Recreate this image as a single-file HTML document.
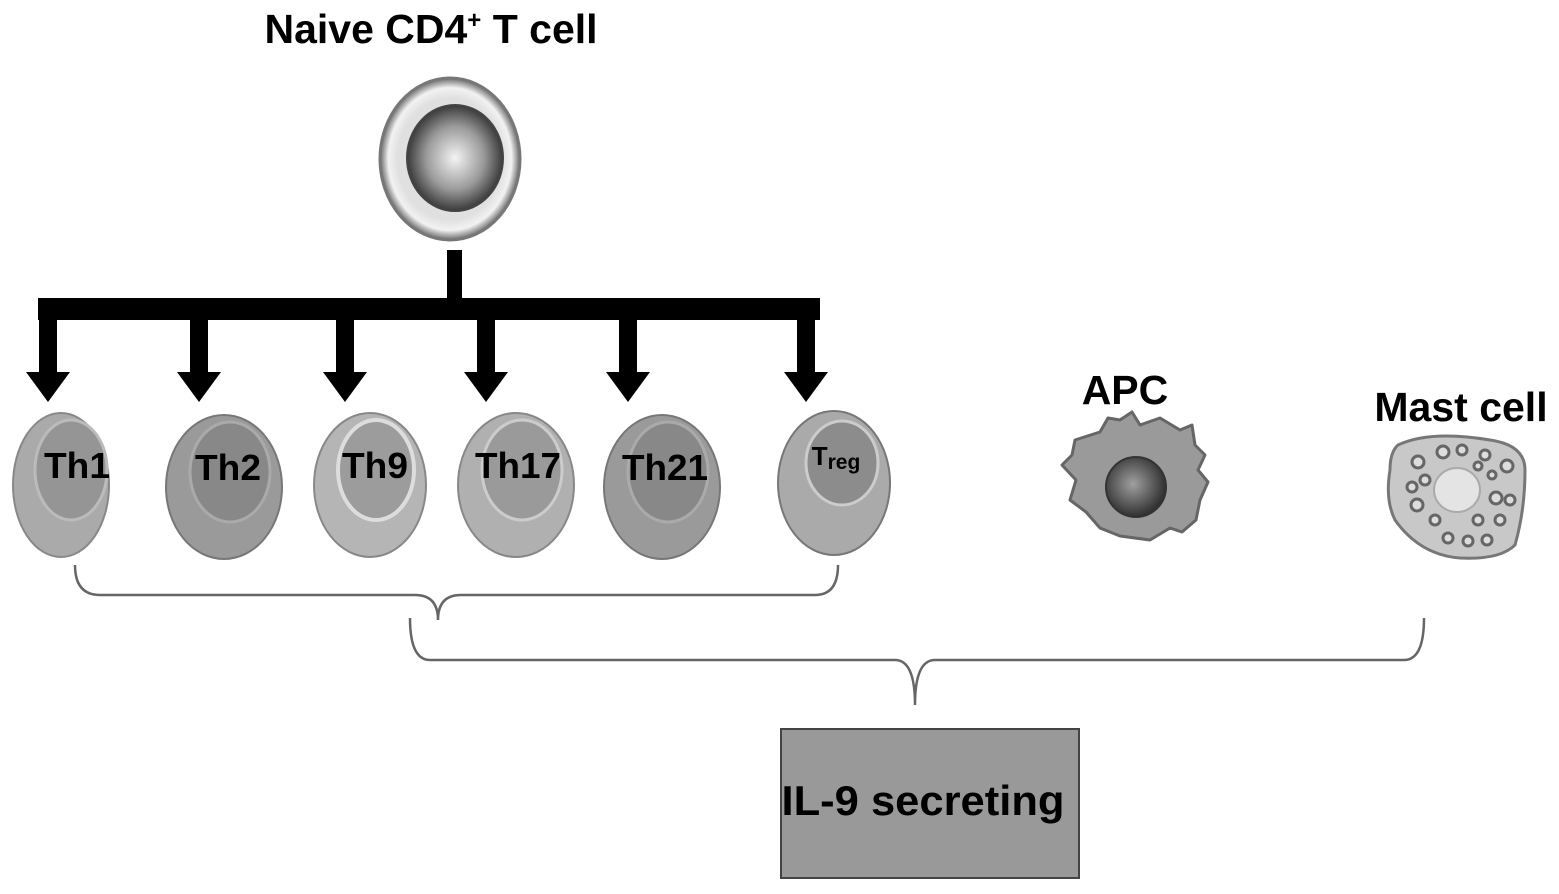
<!DOCTYPE html>
<html><head><meta charset="utf-8"><style>
html,body{margin:0;padding:0;background:#fff}
svg{display:block}
text{font-family:"Liberation Sans",Arial,sans-serif;font-weight:bold}
</style></head><body>
<svg width="1559" height="894" viewBox="0 0 1559 894" xmlns="http://www.w3.org/2000/svg">
<defs>
<radialGradient id="nuc" cx="0.5" cy="0.5" r="0.5">
<stop offset="0" stop-color="#f4f4f4"/><stop offset="0.6" stop-color="#9a9a9a"/><stop offset="1" stop-color="#3a3a3a"/>
</radialGradient>
<radialGradient id="ring" cx="0.5" cy="0.5" r="0.5">
<stop offset="0.75" stop-color="#e0e0e0"/><stop offset="0.88" stop-color="#f2f2f2"/><stop offset="1" stop-color="#6a6a6a"/>
</radialGradient>
<radialGradient id="apcn" cx="0.45" cy="0.45" r="0.55">
<stop offset="0" stop-color="#a0a0a0"/><stop offset="1" stop-color="#303030"/>
</radialGradient>
</defs>
<text x="431" y="43" font-size="41" text-anchor="middle">Naive CD4<tspan font-size="24" dy="-15">+</tspan><tspan dy="15"> T cell</tspan></text>
<ellipse cx="450" cy="159" rx="70" ry="81" fill="url(#ring)" stroke="#777" stroke-width="3"/>
<ellipse cx="455" cy="158" rx="48" ry="53" fill="url(#nuc)" stroke="#444" stroke-width="2"/>
<rect x="447" y="250" width="15" height="52" fill="#000"/>
<rect x="38" y="298" width="782" height="22" fill="#000"/>
<g fill="#000">
<g transform="translate(48,0)"><rect x="-9" y="318" width="18" height="56"/><polygon points="-22,372 22,372 0,402"/></g>
<g transform="translate(199,0)"><rect x="-9" y="318" width="18" height="56"/><polygon points="-22,372 22,372 0,402"/></g>
<g transform="translate(345,0)"><rect x="-9" y="318" width="18" height="56"/><polygon points="-22,372 22,372 0,402"/></g>
<g transform="translate(486,0)"><rect x="-9" y="318" width="18" height="56"/><polygon points="-22,372 22,372 0,402"/></g>
<g transform="translate(628,0)"><rect x="-9" y="318" width="18" height="56"/><polygon points="-22,372 22,372 0,402"/></g>
<g transform="translate(806,0)"><rect x="-9" y="318" width="18" height="56"/><polygon points="-22,372 22,372 0,402"/></g>
</g>
<g>
<g transform="translate(61,485)"><ellipse rx="48" ry="72" fill="#aaa" stroke="#888" stroke-width="2"/><ellipse cx="10" cy="-15" rx="36" ry="50" fill="#959595" stroke="#bbb" stroke-width="3"/></g>
<g transform="translate(224,487)"><ellipse rx="58" ry="72" fill="#9a9a9a" stroke="#777" stroke-width="2"/><ellipse cx="6" cy="-15" rx="40" ry="50" fill="#888" stroke="#aaa" stroke-width="3"/></g>
<g transform="translate(370,485)"><ellipse rx="56" ry="72" fill="#b5b5b5" stroke="#888" stroke-width="2"/><ellipse cx="6" cy="-15" rx="38" ry="50" fill="#9c9c9c" stroke="#ddd" stroke-width="4"/></g>
<g transform="translate(516,485)"><ellipse rx="58" ry="72" fill="#b0b0b0" stroke="#888" stroke-width="2"/><ellipse cx="6" cy="-15" rx="40" ry="50" fill="#9a9a9a" stroke="#ccc" stroke-width="3"/></g>
<g transform="translate(662,487)"><ellipse rx="58" ry="72" fill="#9a9a9a" stroke="#777" stroke-width="2"/><ellipse cx="6" cy="-15" rx="40" ry="50" fill="#888" stroke="#aaa" stroke-width="3"/></g>
<g transform="translate(834,483)"><ellipse rx="56" ry="72" fill="#aaa" stroke="#777" stroke-width="2"/><ellipse cx="8" cy="-20" rx="36" ry="42" fill="#8c8c8c" stroke="#ccc" stroke-width="3"/></g>
</g>
<g font-size="36" text-anchor="middle">
<text x="77" y="478" textLength="66" lengthAdjust="spacingAndGlyphs">Th1</text>
<text x="228" y="480" textLength="66" lengthAdjust="spacingAndGlyphs">Th2</text>
<text x="375" y="478" textLength="66" lengthAdjust="spacingAndGlyphs">Th9</text>
<text x="518" y="478" textLength="86" lengthAdjust="spacingAndGlyphs">Th17</text>
<text x="665" y="480" textLength="86" lengthAdjust="spacingAndGlyphs">Th21</text>
<text x="836" y="465" font-size="26">T<tspan font-size="21" dy="4">reg</tspan></text>
</g>
<g fill="none" stroke="#666" stroke-width="2.5">
<path d="M75,565 Q75,595 100,595 L415,595 Q438,595 438,620 Q438,595 461,595 L815,595 Q838,595 838,565"/>
<path d="M410,618 Q410,660 430,660 L895,660 Q915,660 915,705 Q915,660 935,660 L1404,660 Q1424,660 1424,618"/>
</g>
<text x="1125" y="404" font-size="41" text-anchor="middle">APC</text>
<text x="1461" y="421" font-size="41" text-anchor="middle">Mast cell</text>
<path d="M1075,440 L1100,432 L1108,418 L1120,420 L1132,412 L1140,425 L1160,418 L1180,430 L1192,425 L1195,445 L1205,455 L1198,470 L1208,482 L1200,500 L1196,520 L1182,532 L1170,528 L1150,540 L1120,536 L1100,528 L1086,512 L1070,500 L1076,480 L1062,465 L1072,455 Z" fill="#9a9a9a" stroke="#666" stroke-width="3" stroke-linejoin="round"/>
<ellipse cx="1136" cy="487" rx="30" ry="30" fill="url(#apcn)" stroke="#333" stroke-width="2"/>
<path d="M1398,445 Q1430,430 1490,440 Q1525,445 1525,470 Q1525,510 1515,545 Q1500,560 1460,558 Q1420,555 1395,520 Q1385,500 1390,470 Q1390,452 1398,445 Z" fill="#c8c8c8" stroke="#777" stroke-width="3"/>
<ellipse cx="1457" cy="490" rx="23" ry="22" fill="#e4e4e4" stroke="#aaa" stroke-width="2"/>
<g fill="#ddd" stroke="#666" stroke-width="3">
<circle cx="1418" cy="462" r="6"/><circle cx="1443" cy="452" r="6"/><circle cx="1462" cy="450" r="5"/><circle cx="1485" cy="455" r="5"/><circle cx="1507" cy="466" r="6"/>
<circle cx="1412" cy="487" r="5"/><circle cx="1425" cy="480" r="5"/><circle cx="1417" cy="505" r="6"/><circle cx="1478" cy="466" r="4"/><circle cx="1492" cy="475" r="4"/>
<circle cx="1496" cy="498" r="6"/><circle cx="1510" cy="500" r="5"/><circle cx="1435" cy="520" r="5"/><circle cx="1478" cy="520" r="5"/><circle cx="1500" cy="520" r="5"/>
<circle cx="1448" cy="538" r="5"/><circle cx="1468" cy="541" r="5"/><circle cx="1487" cy="540" r="5"/>
</g>
<rect x="781" y="729" width="298" height="149" fill="#999" stroke="#444" stroke-width="2"/>
<text x="923" y="815" font-size="42" text-anchor="middle" textLength="283" lengthAdjust="spacingAndGlyphs">IL-9 secreting</text>
</svg>
</body></html>
